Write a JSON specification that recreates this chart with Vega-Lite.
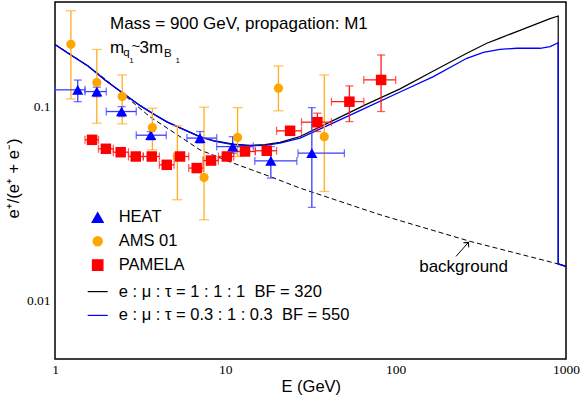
{
"$schema":"https://vega.github.io/schema/vega-lite/v6.json",
"width":511,"height":357,
"autosize":{"type":"none"},
"padding":{"left":55,"top":2,"right":15,"bottom":38},
"background":"white",
"config":{"view":{"stroke":"black","strokeWidth":1.5},"axis":{"grid":false}},
"datasets":{
"xt":[
{"E":1,"k":"major"},{"E":2,"k":"minor"},{"E":3,"k":"minor"},{"E":4,"k":"minor"},{"E":5,"k":"minor"},{"E":6,"k":"minor"},{"E":7,"k":"minor"},{"E":8,"k":"minor"},{"E":9,"k":"minor"},
{"E":10,"k":"major"},{"E":20,"k":"minor"},{"E":30,"k":"minor"},{"E":40,"k":"minor"},{"E":50,"k":"minor"},{"E":60,"k":"minor"},{"E":70,"k":"minor"},{"E":80,"k":"minor"},{"E":90,"k":"minor"},
{"E":100,"k":"major"},{"E":200,"k":"minor"},{"E":300,"k":"minor"},{"E":400,"k":"minor"},{"E":500,"k":"minor"},{"E":600,"k":"minor"},{"E":700,"k":"minor"},{"E":800,"k":"minor"},{"E":900,"k":"minor"},
{"E":1000,"k":"major"}
],
"yt":[
{"v":0.006,"k":"minor"},{"v":0.007,"k":"minor"},{"v":0.008,"k":"minor"},{"v":0.009,"k":"minor"},
{"v":0.01,"k":"major"},{"v":0.02,"k":"minor"},{"v":0.03,"k":"minor"},{"v":0.04,"k":"minor"},{"v":0.05,"k":"minor"},{"v":0.06,"k":"minor"},{"v":0.07,"k":"minor"},{"v":0.08,"k":"minor"},{"v":0.09,"k":"minor"},
{"v":0.1,"k":"major"},{"v":0.2,"k":"minor"},{"v":0.3,"k":"minor"}
],
"pts":[
{"series":"HEAT","E":1.36,"v":0.122,"vlo":0.106,"vhi":0.137,"Elo":1.0,"Ehi":1.5},
{"series":"HEAT","E":1.76,"v":0.1195,"vlo":0.1126,"vhi":0.1259,"Elo":1.5,"Ehi":2.0},
{"series":"HEAT","E":2.46,"v":0.0943,"vlo":0.0889,"vhi":0.1,"Elo":2.0,"Ehi":3.0},
{"series":"HEAT","E":3.65,"v":0.0712,"vlo":0.0674,"vhi":0.0744,"Elo":3.0,"Ehi":4.5},
{"series":"HEAT","E":7.1,"v":0.0688,"vlo":0.0649,"vhi":0.0744,"Elo":5.95,"Ehi":8.9},
{"series":"HEAT","E":11.05,"v":0.0622,"vlo":0.0575,"vhi":0.07,"Elo":8.9,"Ehi":14.6},
{"series":"HEAT","E":18.5,"v":0.0525,"vlo":0.0428,"vhi":0.0622,"Elo":14.9,"Ehi":26.3},
{"series":"HEAT","E":32.2,"v":0.0575,"vlo":0.0302,"vhi":0.0988,"Elo":26.7,"Ehi":50},
{"series":"AMS 01","E":1.24,"v":0.2095,"vlo":0.1095,"vhi":0.312},
{"series":"AMS 01","E":1.76,"v":0.133,"vlo":0.0821,"vhi":0.197},
{"series":"AMS 01","E":2.48,"v":0.1126,"vlo":0.0815,"vhi":0.1455},
{"series":"AMS 01","E":3.73,"v":0.078,"vlo":0.0598,"vhi":0.098},
{"series":"AMS 01","E":5.23,"v":0.0553,"vlo":0.0331,"vhi":0.0796},
{"series":"AMS 01","E":7.5,"v":0.0431,"vlo":0.0261,"vhi":0.0993},
{"series":"AMS 01","E":11.8,"v":0.0693,"vlo":0.0553,"vhi":0.0988},
{"series":"AMS 01","E":20.5,"v":0.1244,"vlo":0.0951,"vhi":0.162},
{"series":"AMS 01","E":38.1,"v":0.07,"vlo":0.0365,"vhi":0.1455},
{"series":"PAMELA","E":1.65,"v":0.0674,"vlo":0.065,"vhi":0.0698,"Elo":1.5,"Ehi":1.8},
{"series":"PAMELA","E":1.99,"v":0.0606,"vlo":0.0586,"vhi":0.0627,"Elo":1.8,"Ehi":2.2},
{"series":"PAMELA","E":2.43,"v":0.0582,"vlo":0.0563,"vhi":0.0601,"Elo":2.2,"Ehi":2.7},
{"series":"PAMELA","E":2.98,"v":0.0553,"vlo":0.0535,"vhi":0.0572,"Elo":2.7,"Ehi":3.3},
{"series":"PAMELA","E":3.7,"v":0.0553,"vlo":0.0535,"vhi":0.0572,"Elo":3.3,"Ehi":4.1},
{"series":"PAMELA","E":4.53,"v":0.0501,"vlo":0.0484,"vhi":0.0519,"Elo":4.1,"Ehi":5.0},
{"series":"PAMELA","E":5.42,"v":0.0553,"vlo":0.0533,"vhi":0.0574,"Elo":5.0,"Ehi":6.1},
{"series":"PAMELA","E":6.79,"v":0.0482,"vlo":0.0463,"vhi":0.0502,"Elo":6.1,"Ehi":7.4},
{"series":"PAMELA","E":8.24,"v":0.0527,"vlo":0.0506,"vhi":0.0549,"Elo":7.4,"Ehi":9.1},
{"series":"PAMELA","E":10.2,"v":0.0553,"vlo":0.053,"vhi":0.0577,"Elo":9.1,"Ehi":11.2},
{"series":"PAMELA","E":13.05,"v":0.0587,"vlo":0.0563,"vhi":0.0612,"Elo":11.2,"Ehi":15},
{"series":"PAMELA","E":17.5,"v":0.0592,"vlo":0.0562,"vhi":0.0624,"Elo":15,"Ehi":20},
{"series":"PAMELA","E":24.0,"v":0.075,"vlo":0.0712,"vhi":0.079,"Elo":20,"Ehi":28},
{"series":"PAMELA","E":34.7,"v":0.0831,"vlo":0.0744,"vhi":0.0925,"Elo":28,"Ehi":42},
{"series":"PAMELA","E":53.5,"v":0.106,"vlo":0.0837,"vhi":0.1278,"Elo":42,"Ehi":65},
{"series":"PAMELA","E":82.1,"v":0.1372,"vlo":0.0943,"vhi":0.1845,"Elo":65,"Ehi":100}
],
"curves":[
{"series":"e : μ : τ = 1 : 1 : 1\u00a0\u00a0BF = 320","o":1,"E":1,"v":0.209},
{"series":"e : μ : τ = 1 : 1 : 1\u00a0\u00a0BF = 320","o":2,"E":1.225,"v":0.1854},
{"series":"e : μ : τ = 1 : 1 : 1\u00a0\u00a0BF = 320","o":3,"E":1.563,"v":0.162},
{"series":"e : μ : τ = 1 : 1 : 1\u00a0\u00a0BF = 320","o":4,"E":1.965,"v":0.1372},
{"series":"e : μ : τ = 1 : 1 : 1\u00a0\u00a0BF = 320","o":5,"E":2.498,"v":0.1176},
{"series":"e : μ : τ = 1 : 1 : 1\u00a0\u00a0BF = 320","o":6,"E":3.15,"v":0.1014},
{"series":"e : μ : τ = 1 : 1 : 1\u00a0\u00a0BF = 320","o":7,"E":3.866,"v":0.0906},
{"series":"e : μ : τ = 1 : 1 : 1\u00a0\u00a0BF = 320","o":8,"E":4.54,"v":0.0834},
{"series":"e : μ : τ = 1 : 1 : 1\u00a0\u00a0BF = 320","o":9,"E":5.42,"v":0.0777},
{"series":"e : μ : τ = 1 : 1 : 1\u00a0\u00a0BF = 320","o":10,"E":7.1,"v":0.07},
{"series":"e : μ : τ = 1 : 1 : 1\u00a0\u00a0BF = 320","o":11,"E":8.7,"v":0.0665},
{"series":"e : μ : τ = 1 : 1 : 1\u00a0\u00a0BF = 320","o":12,"E":11.1,"v":0.064},
{"series":"e : μ : τ = 1 : 1 : 1\u00a0\u00a0BF = 320","o":13,"E":13.96,"v":0.0632},
{"series":"e : μ : τ = 1 : 1 : 1\u00a0\u00a0BF = 320","o":14,"E":17.1,"v":0.0637},
{"series":"e : μ : τ = 1 : 1 : 1\u00a0\u00a0BF = 320","o":15,"E":20.95,"v":0.0654},
{"series":"e : μ : τ = 1 : 1 : 1\u00a0\u00a0BF = 320","o":16,"E":27.46,"v":0.0701},
{"series":"e : μ : τ = 1 : 1 : 1\u00a0\u00a0BF = 320","o":17,"E":43.1,"v":0.0849},
{"series":"e : μ : τ = 1 : 1 : 1\u00a0\u00a0BF = 320","o":18,"E":67.7,"v":0.103},
{"series":"e : μ : τ = 1 : 1 : 1\u00a0\u00a0BF = 320","o":19,"E":106.1,"v":0.1234},
{"series":"e : μ : τ = 1 : 1 : 1\u00a0\u00a0BF = 320","o":20,"E":166.5,"v":0.1527},
{"series":"e : μ : τ = 1 : 1 : 1\u00a0\u00a0BF = 320","o":21,"E":261.6,"v":0.1883},
{"series":"e : μ : τ = 1 : 1 : 1\u00a0\u00a0BF = 320","o":22,"E":342.7,"v":0.212},
{"series":"e : μ : τ = 1 : 1 : 1\u00a0\u00a0BF = 320","o":23,"E":410,"v":0.2255},
{"series":"e : μ : τ = 1 : 1 : 1\u00a0\u00a0BF = 320","o":24,"E":514,"v":0.2435},
{"series":"e : μ : τ = 1 : 1 : 1\u00a0\u00a0BF = 320","o":25,"E":643.6,"v":0.263},
{"series":"e : μ : τ = 1 : 1 : 1\u00a0\u00a0BF = 320","o":26,"E":806.6,"v":0.284},
{"series":"e : μ : τ = 1 : 1 : 1\u00a0\u00a0BF = 320","o":27,"E":900,"v":0.2929},
{"series":"e : μ : τ = 1 : 1 : 1\u00a0\u00a0BF = 320","o":28,"E":900,"v":0.01545},
{"series":"e : μ : τ = 1 : 1 : 1\u00a0\u00a0BF = 320","o":29,"E":1000,"v":0.015},
{"series":"e : μ : τ = 0.3 : 1 : 0.3\u00a0\u00a0BF = 550","o":1,"E":1,"v":0.209},
{"series":"e : μ : τ = 0.3 : 1 : 0.3\u00a0\u00a0BF = 550","o":2,"E":1.225,"v":0.1854},
{"series":"e : μ : τ = 0.3 : 1 : 0.3\u00a0\u00a0BF = 550","o":3,"E":1.563,"v":0.162},
{"series":"e : μ : τ = 0.3 : 1 : 0.3\u00a0\u00a0BF = 550","o":4,"E":1.965,"v":0.1372},
{"series":"e : μ : τ = 0.3 : 1 : 0.3\u00a0\u00a0BF = 550","o":5,"E":2.498,"v":0.1176},
{"series":"e : μ : τ = 0.3 : 1 : 0.3\u00a0\u00a0BF = 550","o":6,"E":3.15,"v":0.1014},
{"series":"e : μ : τ = 0.3 : 1 : 0.3\u00a0\u00a0BF = 550","o":7,"E":3.866,"v":0.0906},
{"series":"e : μ : τ = 0.3 : 1 : 0.3\u00a0\u00a0BF = 550","o":8,"E":4.54,"v":0.0834},
{"series":"e : μ : τ = 0.3 : 1 : 0.3\u00a0\u00a0BF = 550","o":9,"E":5.42,"v":0.0777},
{"series":"e : μ : τ = 0.3 : 1 : 0.3\u00a0\u00a0BF = 550","o":10,"E":7.1,"v":0.0698},
{"series":"e : μ : τ = 0.3 : 1 : 0.3\u00a0\u00a0BF = 550","o":11,"E":8.7,"v":0.0662},
{"series":"e : μ : τ = 0.3 : 1 : 0.3\u00a0\u00a0BF = 550","o":12,"E":11.1,"v":0.0636},
{"series":"e : μ : τ = 0.3 : 1 : 0.3\u00a0\u00a0BF = 550","o":13,"E":13.96,"v":0.0628},
{"series":"e : μ : τ = 0.3 : 1 : 0.3\u00a0\u00a0BF = 550","o":14,"E":17.1,"v":0.0631},
{"series":"e : μ : τ = 0.3 : 1 : 0.3\u00a0\u00a0BF = 550","o":15,"E":20.95,"v":0.0648},
{"series":"e : μ : τ = 0.3 : 1 : 0.3\u00a0\u00a0BF = 550","o":16,"E":27.46,"v":0.0688},
{"series":"e : μ : τ = 0.3 : 1 : 0.3\u00a0\u00a0BF = 550","o":17,"E":43.1,"v":0.0825},
{"series":"e : μ : τ = 0.3 : 1 : 0.3\u00a0\u00a0BF = 550","o":18,"E":67.7,"v":0.0991},
{"series":"e : μ : τ = 0.3 : 1 : 0.3\u00a0\u00a0BF = 550","o":19,"E":106.1,"v":0.1189},
{"series":"e : μ : τ = 0.3 : 1 : 0.3\u00a0\u00a0BF = 550","o":20,"E":166.5,"v":0.1427},
{"series":"e : μ : τ = 0.3 : 1 : 0.3\u00a0\u00a0BF = 550","o":21,"E":261.6,"v":0.1774},
{"series":"e : μ : τ = 0.3 : 1 : 0.3\u00a0\u00a0BF = 550","o":22,"E":327.3,"v":0.1905},
{"series":"e : μ : τ = 0.3 : 1 : 0.3\u00a0\u00a0BF = 550","o":23,"E":410,"v":0.1974},
{"series":"e : μ : τ = 0.3 : 1 : 0.3\u00a0\u00a0BF = 550","o":24,"E":514,"v":0.1998},
{"series":"e : μ : τ = 0.3 : 1 : 0.3\u00a0\u00a0BF = 550","o":25,"E":704.6,"v":0.1998},
{"series":"e : μ : τ = 0.3 : 1 : 0.3\u00a0\u00a0BF = 550","o":26,"E":806.6,"v":0.2036},
{"series":"e : μ : τ = 0.3 : 1 : 0.3\u00a0\u00a0BF = 550","o":27,"E":900,"v":0.2135},
{"series":"e : μ : τ = 0.3 : 1 : 0.3\u00a0\u00a0BF = 550","o":28,"E":900,"v":0.01545},
{"series":"e : μ : τ = 0.3 : 1 : 0.3\u00a0\u00a0BF = 550","o":29,"E":1000,"v":0.015}
],
"bg":[
{"o":1,"E":1,"v":0.209},
{"o":2,"E":1.35,"v":0.1765},
{"o":3,"E":1.837,"v":0.1456},
{"o":4,"E":2.5,"v":0.1162},
{"o":5,"E":3.613,"v":0.0885},
{"o":6,"E":5.0,"v":0.0734},
{"o":7,"E":7.1,"v":0.0598},
{"o":8,"E":11.14,"v":0.0511},
{"o":9,"E":18.3,"v":0.0436},
{"o":10,"E":27.46,"v":0.038},
{"o":11,"E":81.0,"v":0.0277},
{"o":12,"E":273.5,"v":0.0202},
{"o":13,"E":900,"v":0.01545},
{"o":14,"E":1000,"v":0.015}
]
},
"encoding":{
 "x":{"field":"E","type":"quantitative","scale":{"type":"log","domain":[1,1000],"nice":false},
  "axis":{"orient":"bottom","values":[1,10,100,1000],"ticks":false,"domain":false,"grid":false,"labelFont":"Liberation Serif","labelFontSize":13.5,"labelColor":"black","labelPadding":3,"labelFlush":false,"labelOverlap":false,"labelBound":false,"labelExpr":"datum.value == 1 ? '1' : datum.value == 10 ? '10' : datum.value == 100 ? '100' : '1000'","title":"E (GeV)","titleFont":"Liberation Sans","titleFontSize":16.5,"titleFontWeight":"normal","titleColor":"black","titleX":255.8,"titleY":32.7,"titleBaseline":"alphabetic","titleAlign":"center"}},
 "y":{"field":"v","type":"quantitative","scale":{"type":"log","domain":[0.005,0.346],"nice":false},
  "axis":{"orient":"left","values":[0.01,0.1],"ticks":false,"domain":false,"grid":false,"labelFont":"Liberation Serif","labelFontSize":13.5,"labelColor":"black","labelPadding":5,"labelOverlap":false,"labelFlush":false,"labelBound":false,"labelExpr":"datum.value > 0.05 ? '0.1' : '0.01'","title":"e\u207a/(e\u207a + e\u207b)","titleFont":"Liberation Sans","titleFontSize":16.5,"titleFontWeight":"normal","titleColor":"black","titleAngle":270,"titleX":-36.5,"titleY":176,"titleBaseline":"alphabetic","titleAlign":"center"}}
},
"layer":[
{"data":{"name":"bg"},
 "mark":{"type":"line","color":"black","strokeWidth":1,"strokeDash":[5,3]},
 "encoding":{"order":{"field":"o","type":"quantitative"}}},
{"data":{"name":"xt"},"transform":[{"filter":"datum.k == 'major'"}],
 "mark":{"type":"tick","orient":"vertical","size":10,"thickness":1,"color":"#111","opacity":1,"yOffset":-5},
 "encoding":{"y":{"datum":0.005,"type":"quantitative","scale":{"type":"log","domain":[0.005,0.346],"nice":false},"axis":{"orient":"left","values":[0.01,0.1],"ticks":false,"domain":false,"grid":false,"labelFont":"Liberation Serif","labelFontSize":13.5,"labelColor":"black","labelPadding":5,"labelOverlap":false,"labelFlush":false,"labelBound":false,"labelExpr":"datum.value > 0.05 ? '0.1' : '0.01'","title":"e\u207a/(e\u207a + e\u207b)","titleFont":"Liberation Sans","titleFontSize":16.5,"titleFontWeight":"normal","titleColor":"black","titleAngle":270,"titleX":-36.5,"titleY":176,"titleBaseline":"alphabetic","titleAlign":"center"}}}},
{"data":{"name":"xt"},"transform":[{"filter":"datum.k == 'minor'"}],
 "mark":{"type":"tick","orient":"vertical","size":5,"thickness":1,"color":"#111","opacity":1,"yOffset":-2.5},
 "encoding":{"y":{"datum":0.005,"type":"quantitative","scale":{"type":"log","domain":[0.005,0.346],"nice":false},"axis":{"orient":"left","values":[0.01,0.1],"ticks":false,"domain":false,"grid":false,"labelFont":"Liberation Serif","labelFontSize":13.5,"labelColor":"black","labelPadding":5,"labelOverlap":false,"labelFlush":false,"labelBound":false,"labelExpr":"datum.value > 0.05 ? '0.1' : '0.01'","title":"e\u207a/(e\u207a + e\u207b)","titleFont":"Liberation Sans","titleFontSize":16.5,"titleFontWeight":"normal","titleColor":"black","titleAngle":270,"titleX":-36.5,"titleY":176,"titleBaseline":"alphabetic","titleAlign":"center"}}}},
{"data":{"name":"xt"},"transform":[{"filter":"datum.k == 'major'"}],
 "mark":{"type":"tick","orient":"vertical","size":10,"thickness":1,"color":"#111","opacity":1,"yOffset":5},
 "encoding":{"y":{"datum":0.346,"type":"quantitative","scale":{"type":"log","domain":[0.005,0.346],"nice":false},"axis":{"orient":"left","values":[0.01,0.1],"ticks":false,"domain":false,"grid":false,"labelFont":"Liberation Serif","labelFontSize":13.5,"labelColor":"black","labelPadding":5,"labelOverlap":false,"labelFlush":false,"labelBound":false,"labelExpr":"datum.value > 0.05 ? '0.1' : '0.01'","title":"e\u207a/(e\u207a + e\u207b)","titleFont":"Liberation Sans","titleFontSize":16.5,"titleFontWeight":"normal","titleColor":"black","titleAngle":270,"titleX":-36.5,"titleY":176,"titleBaseline":"alphabetic","titleAlign":"center"}}}},
{"data":{"name":"xt"},"transform":[{"filter":"datum.k == 'minor'"}],
 "mark":{"type":"tick","orient":"vertical","size":5,"thickness":1,"color":"#111","opacity":1,"yOffset":2.5},
 "encoding":{"y":{"datum":0.346,"type":"quantitative","scale":{"type":"log","domain":[0.005,0.346],"nice":false},"axis":{"orient":"left","values":[0.01,0.1],"ticks":false,"domain":false,"grid":false,"labelFont":"Liberation Serif","labelFontSize":13.5,"labelColor":"black","labelPadding":5,"labelOverlap":false,"labelFlush":false,"labelBound":false,"labelExpr":"datum.value > 0.05 ? '0.1' : '0.01'","title":"e\u207a/(e\u207a + e\u207b)","titleFont":"Liberation Sans","titleFontSize":16.5,"titleFontWeight":"normal","titleColor":"black","titleAngle":270,"titleX":-36.5,"titleY":176,"titleBaseline":"alphabetic","titleAlign":"center"}}}},
{"data":{"name":"yt"},"transform":[{"filter":"datum.k == 'major'"}],
 "mark":{"type":"tick","orient":"horizontal","size":10,"thickness":1,"color":"#111","opacity":1,"xOffset":5},
 "encoding":{"x":{"datum":1,"type":"quantitative","scale":{"type":"log","domain":[1,1000],"nice":false},"axis":{"orient":"bottom","values":[1,10,100,1000],"ticks":false,"domain":false,"grid":false,"labelFont":"Liberation Serif","labelFontSize":13.5,"labelColor":"black","labelPadding":3,"labelFlush":false,"labelOverlap":false,"labelBound":false,"labelExpr":"datum.value == 1 ? '1' : datum.value == 10 ? '10' : datum.value == 100 ? '100' : '1000'","title":"E (GeV)","titleFont":"Liberation Sans","titleFontSize":16.5,"titleFontWeight":"normal","titleColor":"black","titleX":255.8,"titleY":32.7,"titleBaseline":"alphabetic","titleAlign":"center"}}}},
{"data":{"name":"yt"},"transform":[{"filter":"datum.k == 'minor'"}],
 "mark":{"type":"tick","orient":"horizontal","size":5,"thickness":1,"color":"#111","opacity":1,"xOffset":2.5},
 "encoding":{"x":{"datum":1,"type":"quantitative","scale":{"type":"log","domain":[1,1000],"nice":false},"axis":{"orient":"bottom","values":[1,10,100,1000],"ticks":false,"domain":false,"grid":false,"labelFont":"Liberation Serif","labelFontSize":13.5,"labelColor":"black","labelPadding":3,"labelFlush":false,"labelOverlap":false,"labelBound":false,"labelExpr":"datum.value == 1 ? '1' : datum.value == 10 ? '10' : datum.value == 100 ? '100' : '1000'","title":"E (GeV)","titleFont":"Liberation Sans","titleFontSize":16.5,"titleFontWeight":"normal","titleColor":"black","titleX":255.8,"titleY":32.7,"titleBaseline":"alphabetic","titleAlign":"center"}}}},
{"data":{"name":"yt"},"transform":[{"filter":"datum.k == 'major'"}],
 "mark":{"type":"tick","orient":"horizontal","size":10,"thickness":1,"color":"#111","opacity":1,"xOffset":-5},
 "encoding":{"x":{"datum":1000,"type":"quantitative","scale":{"type":"log","domain":[1,1000],"nice":false},"axis":{"orient":"bottom","values":[1,10,100,1000],"ticks":false,"domain":false,"grid":false,"labelFont":"Liberation Serif","labelFontSize":13.5,"labelColor":"black","labelPadding":3,"labelFlush":false,"labelOverlap":false,"labelBound":false,"labelExpr":"datum.value == 1 ? '1' : datum.value == 10 ? '10' : datum.value == 100 ? '100' : '1000'","title":"E (GeV)","titleFont":"Liberation Sans","titleFontSize":16.5,"titleFontWeight":"normal","titleColor":"black","titleX":255.8,"titleY":32.7,"titleBaseline":"alphabetic","titleAlign":"center"}}}},
{"data":{"name":"yt"},"transform":[{"filter":"datum.k == 'minor'"}],
 "mark":{"type":"tick","orient":"horizontal","size":5,"thickness":1,"color":"#111","opacity":1,"xOffset":-2.5},
 "encoding":{"x":{"datum":1000,"type":"quantitative","scale":{"type":"log","domain":[1,1000],"nice":false},"axis":{"orient":"bottom","values":[1,10,100,1000],"ticks":false,"domain":false,"grid":false,"labelFont":"Liberation Serif","labelFontSize":13.5,"labelColor":"black","labelPadding":3,"labelFlush":false,"labelOverlap":false,"labelBound":false,"labelExpr":"datum.value == 1 ? '1' : datum.value == 10 ? '10' : datum.value == 100 ? '100' : '1000'","title":"E (GeV)","titleFont":"Liberation Sans","titleFontSize":16.5,"titleFontWeight":"normal","titleColor":"black","titleX":255.8,"titleY":32.7,"titleBaseline":"alphabetic","titleAlign":"center"}}}},
{"data":{"name":"curves"},
 "transform":[{"filter":"indexof(datum.series, '320') >= 0"}],
 "mark":{"type":"line","strokeWidth":1.2},
 "encoding":{
  "stroke":{"field":"series","type":"nominal","scale":{"domain":["HEAT","AMS 01","PAMELA","e : μ : τ = 1 : 1 : 1\u00a0\u00a0BF = 320","e : μ : τ = 0.3 : 1 : 0.3\u00a0\u00a0BF = 550"],"range":["#0000ff","#ffa500","#ff0000","#000000","#0000ff"]}},
  "order":{"field":"o","type":"quantitative"}}},
{"data":{"name":"curves"},
 "transform":[{"filter":"indexof(datum.series, '550') >= 0"}],
 "mark":{"type":"line","strokeWidth":1.3},
 "encoding":{
  "stroke":{"field":"series","type":"nominal","scale":{"domain":["HEAT","AMS 01","PAMELA","e : μ : τ = 1 : 1 : 1\u00a0\u00a0BF = 320","e : μ : τ = 0.3 : 1 : 0.3\u00a0\u00a0BF = 550"],"range":["#0000ff","#ffa500","#ff0000","#000000","#0000ff"]}},
  "order":{"field":"o","type":"quantitative"}}},
{"data":{"name":"pts"},
 "transform":[{"filter":"datum.series == 'AMS 01'"}],
 "mark":{"type":"errorbar","color":"#ffad1f","thickness":1.3,"ticks":{"size":10}},
 "encoding":{
  "y":{"field":"vlo","type":"quantitative","scale":{"type":"log","domain":[0.005,0.346],"nice":false},"axis":{"orient":"left","values":[0.01,0.1],"ticks":false,"domain":false,"grid":false,"labelFont":"Liberation Serif","labelFontSize":13.5,"labelColor":"black","labelPadding":5,"labelOverlap":false,"labelFlush":false,"labelBound":false,"labelExpr":"datum.value > 0.05 ? '0.1' : '0.01'","title":"e\u207a/(e\u207a + e\u207b)","titleFont":"Liberation Sans","titleFontSize":16.5,"titleFontWeight":"normal","titleColor":"black","titleAngle":270,"titleX":-36.5,"titleY":176,"titleBaseline":"alphabetic","titleAlign":"center"}},
  "y2":{"field":"vhi"}}},
{"data":{"name":"pts"},
 "transform":[{"filter":"datum.series == 'HEAT'"}],
 "mark":{"type":"errorbar","color":"#3b3bff","thickness":1.3,"ticks":{"size":8}},
 "encoding":{
  "y":{"field":"vlo","type":"quantitative","scale":{"type":"log","domain":[0.005,0.346],"nice":false},"axis":{"orient":"left","values":[0.01,0.1],"ticks":false,"domain":false,"grid":false,"labelFont":"Liberation Serif","labelFontSize":13.5,"labelColor":"black","labelPadding":5,"labelOverlap":false,"labelFlush":false,"labelBound":false,"labelExpr":"datum.value > 0.05 ? '0.1' : '0.01'","title":"e\u207a/(e\u207a + e\u207b)","titleFont":"Liberation Sans","titleFontSize":16.5,"titleFontWeight":"normal","titleColor":"black","titleAngle":270,"titleX":-36.5,"titleY":176,"titleBaseline":"alphabetic","titleAlign":"center"}},
  "y2":{"field":"vhi"}}},
{"data":{"name":"pts"},
 "transform":[{"filter":"datum.series == 'HEAT'"}],
 "mark":{"type":"errorbar","color":"#3b3bff","thickness":1.3,"ticks":{"size":8}},
 "encoding":{
  "x":{"field":"Elo","type":"quantitative","scale":{"type":"log","domain":[1,1000],"nice":false},"axis":{"orient":"bottom","values":[1,10,100,1000],"ticks":false,"domain":false,"grid":false,"labelFont":"Liberation Serif","labelFontSize":13.5,"labelColor":"black","labelPadding":3,"labelFlush":false,"labelOverlap":false,"labelBound":false,"labelExpr":"datum.value == 1 ? '1' : datum.value == 10 ? '10' : datum.value == 100 ? '100' : '1000'","title":"E (GeV)","titleFont":"Liberation Sans","titleFontSize":16.5,"titleFontWeight":"normal","titleColor":"black","titleX":255.8,"titleY":32.7,"titleBaseline":"alphabetic","titleAlign":"center"}},
  "x2":{"field":"Ehi"}}},
{"data":{"name":"pts"},
 "transform":[{"filter":"datum.series == 'PAMELA'"}],
 "mark":{"type":"errorbar","color":"#ff1a1a","thickness":1.3,"ticks":{"size":8}},
 "encoding":{
  "y":{"field":"vlo","type":"quantitative","scale":{"type":"log","domain":[0.005,0.346],"nice":false},"axis":{"orient":"left","values":[0.01,0.1],"ticks":false,"domain":false,"grid":false,"labelFont":"Liberation Serif","labelFontSize":13.5,"labelColor":"black","labelPadding":5,"labelOverlap":false,"labelFlush":false,"labelBound":false,"labelExpr":"datum.value > 0.05 ? '0.1' : '0.01'","title":"e\u207a/(e\u207a + e\u207b)","titleFont":"Liberation Sans","titleFontSize":16.5,"titleFontWeight":"normal","titleColor":"black","titleAngle":270,"titleX":-36.5,"titleY":176,"titleBaseline":"alphabetic","titleAlign":"center"}},
  "y2":{"field":"vhi"}}},
{"data":{"name":"pts"},
 "transform":[{"filter":"datum.series == 'PAMELA'"}],
 "mark":{"type":"errorbar","color":"#ff1a1a","thickness":1.3,"ticks":{"size":8}},
 "encoding":{
  "x":{"field":"Elo","type":"quantitative","scale":{"type":"log","domain":[1,1000],"nice":false},"axis":{"orient":"bottom","values":[1,10,100,1000],"ticks":false,"domain":false,"grid":false,"labelFont":"Liberation Serif","labelFontSize":13.5,"labelColor":"black","labelPadding":3,"labelFlush":false,"labelOverlap":false,"labelBound":false,"labelExpr":"datum.value == 1 ? '1' : datum.value == 10 ? '10' : datum.value == 100 ? '100' : '1000'","title":"E (GeV)","titleFont":"Liberation Sans","titleFontSize":16.5,"titleFontWeight":"normal","titleColor":"black","titleX":255.8,"titleY":32.7,"titleBaseline":"alphabetic","titleAlign":"center"}},
  "x2":{"field":"Ehi"}}},
{"data":{"name":"pts"},
 "mark":{"type":"point","filled":true,"opacity":1},
 "encoding":{
  "fill":{"field":"series","type":"nominal","scale":{"domain":["HEAT","AMS 01","PAMELA","e : μ : τ = 1 : 1 : 1\u00a0\u00a0BF = 320","e : μ : τ = 0.3 : 1 : 0.3\u00a0\u00a0BF = 550"],"range":["#0000ff","#ffa500","#ff0000","#000000","#0000ff"]},
   "legend":{"title":null,"orient":"none","legendX":31.7,"legendY":207.2,"padding":0,"columns":1,"gridAlign":"all","rowPadding":3.8,"labelOffset":10,"labelFont":"Liberation Sans","labelFontSize":16.5,"labelColor":"black","labelLimit":400,"symbolStrokeWidth":1.2,"symbolOpacity":1}},
  "shape":{"field":"series","type":"nominal","scale":{"domain":["HEAT","AMS 01","PAMELA","e : μ : τ = 1 : 1 : 1\u00a0\u00a0BF = 320","e : μ : τ = 0.3 : 1 : 0.3\u00a0\u00a0BF = 550"],"range":["triangle-up","circle","square","stroke","stroke"]}},
  "size":{"field":"series","type":"nominal","scale":{"type":"ordinal","domain":["HEAT","AMS 01","PAMELA","e : μ : τ = 1 : 1 : 1\u00a0\u00a0BF = 320","e : μ : τ = 0.3 : 1 : 0.3\u00a0\u00a0BF = 550"],"range":[125,85,110,400,400]}}}},
{"data":{"values":[{"E":2.103,"v":0.2512,"t":"Mass = 900 GeV, propagation: M1"}]},
 "mark":{"type":"text","align":"left","baseline":"alphabetic","fontSize":17,"font":"Liberation Sans","color":"black"},
 "encoding":{"text":{"field":"t"}}},
{"data":{"values":[{"E":2.103,"v":0.1897,"t":"m"}]},
 "mark":{"type":"text","align":"left","baseline":"alphabetic","fontSize":17,"font":"Liberation Sans","color":"black"},
 "encoding":{"text":{"field":"t"}}},
{"data":{"values":[{"E":2.103,"v":0.1897,"t":"q"}]},
 "mark":{"type":"text","align":"left","baseline":"alphabetic","fontSize":11.5,"dx":13.3,"dy":3.5,"font":"Liberation Sans","color":"black"},
 "encoding":{"text":{"field":"t"}}},
{"data":{"values":[{"E":2.103,"v":0.1897,"t":"1"}]},
 "mark":{"type":"text","align":"left","baseline":"alphabetic","fontSize":8,"dx":19.3,"dy":10.5,"font":"Liberation Sans","color":"black"},
 "encoding":{"text":{"field":"t"}}},
{"data":{"values":[{"E":2.103,"v":0.1897,"t":"~"}]},
 "mark":{"type":"text","align":"left","baseline":"alphabetic","fontSize":15,"dx":21.5,"dy":-2,"font":"Liberation Sans","color":"black"},
 "encoding":{"text":{"field":"t"}}},
{"data":{"values":[{"E":2.103,"v":0.1897,"t":"3m"}]},
 "mark":{"type":"text","align":"left","baseline":"alphabetic","fontSize":17,"dx":29.5,"font":"Liberation Sans","color":"black"},
 "encoding":{"text":{"field":"t"}}},
{"data":{"values":[{"E":2.103,"v":0.1897,"t":"B"}]},
 "mark":{"type":"text","align":"left","baseline":"alphabetic","fontSize":11.5,"dx":54,"dy":4,"font":"Liberation Sans","color":"black"},
 "encoding":{"text":{"field":"t"}}},
{"data":{"values":[{"E":2.103,"v":0.1897,"t":"1"}]},
 "mark":{"type":"text","align":"left","baseline":"alphabetic","fontSize":8,"dx":65.5,"dy":10.5,"font":"Liberation Sans","color":"black"},
 "encoding":{"text":{"field":"t"}}},
{"data":{"values":[{"E":250.5,"v":0.01398,"t":"background"}]},
 "mark":{"type":"text","align":"center","baseline":"alphabetic","fontSize":17,"font":"Liberation Sans","color":"black"},
 "encoding":{"text":{"field":"t"}}},
{"data":{"values":[{"E":226.2,"v":0.0169,"E2":267.3,"v2":0.01995}]},
 "mark":{"type":"rule","color":"black","strokeWidth":1},
 "encoding":{"x2":{"field":"E2"},"y2":{"field":"v2"}}},
{"data":{"values":[{"E":226.2,"v":0.0169,"E2":267.3,"v2":0.01995}]},
 "mark":{"type":"point","shape":"M-1,1L0,0L1,1","angle":41,"size":50,"filled":false,"stroke":"black","strokeWidth":1,"opacity":1},
 "encoding":{
  "x":{"field":"E2","type":"quantitative","scale":{"type":"log","domain":[1,1000],"nice":false},"axis":{"orient":"bottom","values":[1,10,100,1000],"ticks":false,"domain":false,"grid":false,"labelFont":"Liberation Serif","labelFontSize":13.5,"labelColor":"black","labelPadding":3,"labelFlush":false,"labelOverlap":false,"labelBound":false,"labelExpr":"datum.value == 1 ? '1' : datum.value == 10 ? '10' : datum.value == 100 ? '100' : '1000'","title":"E (GeV)","titleFont":"Liberation Sans","titleFontSize":16.5,"titleFontWeight":"normal","titleColor":"black","titleX":255.8,"titleY":32.7,"titleBaseline":"alphabetic","titleAlign":"center"}},
  "y":{"field":"v2","type":"quantitative","scale":{"type":"log","domain":[0.005,0.346],"nice":false},"axis":{"orient":"left","values":[0.01,0.1],"ticks":false,"domain":false,"grid":false,"labelFont":"Liberation Serif","labelFontSize":13.5,"labelColor":"black","labelPadding":5,"labelOverlap":false,"labelFlush":false,"labelBound":false,"labelExpr":"datum.value > 0.05 ? '0.1' : '0.01'","title":"e\u207a/(e\u207a + e\u207b)","titleFont":"Liberation Sans","titleFontSize":16.5,"titleFontWeight":"normal","titleColor":"black","titleAngle":270,"titleX":-36.5,"titleY":176,"titleBaseline":"alphabetic","titleAlign":"center"}}}}
]
}
